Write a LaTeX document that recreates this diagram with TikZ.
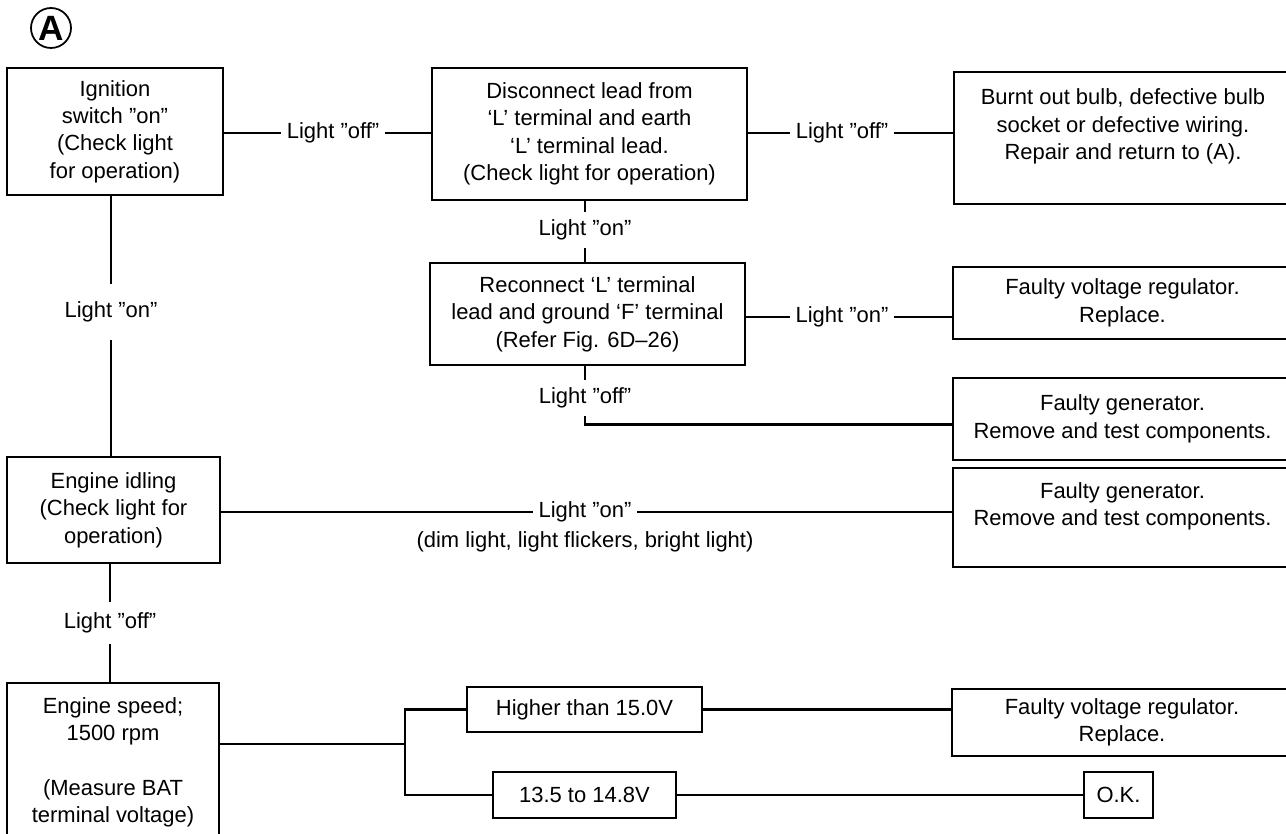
\documentclass[tikz,border=0pt]{standalone}
\usepackage{fontspec}
\setmainfont{Liberation Sans}
\usepackage{tikz}
\usetikzlibrary{positioning, calc}

\begin{document}
\begin{tikzpicture}[
    x=0.02cm, y=-0.02cm,
    font=\fontsize{12.5}{15.6}\selectfont,
    stepbox/.style={draw, line width=0.9pt, align=center, inner sep=2pt},
    endbox/.style={draw, line width=0.9pt, align=center, inner sep=2pt,
        minimum width=6.78cm},
    condlabel/.style={inner xsep=3pt, inner ysep=4pt},
    notelabel/.style={align=center, inner sep=1pt},
    conn/.style={line width=1.7pt},
    markcircle/.style={draw, circle, line width=1pt, minimum size=0.8cm,
        inner sep=0pt, font=\fontsize{20}{20}\selectfont\bfseries},
]
\useasboundingbox (0,0) rectangle (1286,834);
\clip (0,0) rectangle (1286,834);

%% ========== START MARK ==========
\node[markcircle] (mark) at (51,28) {A};

%% ========== LEFT COLUMN ==========
\node[stepbox, minimum width=4.32cm, minimum height=2.54cm] (ign) at (115,131.5)
    {Ignition\\switch ''on''\\(Check light\\for operation)};
\node[stepbox, minimum width=4.26cm, minimum height=2.12cm] (idle) at (113.5,510)
    {Engine idling\\(Check light for\\operation)};
\node[stepbox, minimum width=4.24cm, minimum height=3.18cm] (speed) at (113,762.5)
    {Engine speed;\\1500 rpm\\[15.6pt](Measure BAT\\terminal voltage)};

%% ========== MIDDLE COLUMN ==========
\node[stepbox, minimum width=6.3cm, minimum height=2.64cm] (disc) at (589.5,134)
    {Disconnect lead from\\`L' terminal and earth\\`L' terminal lead.\\(Check light for operation)};
\node[stepbox, minimum width=6.3cm, minimum height=2.04cm] (recon) at (587.5,314)
    {Reconnect `L' terminal\\lead and ground `F' terminal\\(Refer Fig. 6D--26)};
\node[stepbox, minimum width=4.7cm, minimum height=0.9cm] (high) at (584.5,709.5)
    {Higher than 15.0V};
\node[stepbox, minimum width=3.66cm, minimum height=0.92cm] (volt) at (584.5,795)
    {13.5 to 14.8V};

%% ========== RESULTS (right) ==========
\node[endbox, minimum width=6.76cm, minimum height=2.64cm] (bulb) at (1123,138)
    {Burnt out bulb, defective bulb\\socket or defective wiring.\\Repair and return to (A).\\ \mbox{}};
\node[endbox, minimum height=1.44cm] (vr1) at (1122.5,303)
    {Faulty voltage regulator.\\Replace.};
\node[endbox, minimum height=1.64cm] (gen1) at (1122.5,419)
    {Faulty generator.\\Remove and test components.};
\node[endbox, minimum height=1.98cm] (gen2) at (1122.5,517.5)
    {Faulty generator.\\Remove and test components.\\ \mbox{}};
\node[endbox, minimum width=6.8cm, minimum height=1.34cm] (vr2) at (1122,722.5)
    {Faulty voltage regulator.\\Replace.};
\node[stepbox, minimum width=1.38cm, minimum height=0.92cm] (ok) at (1118.5,795)
    {O.K.};

%% ========== CONDITION LABELS ==========
\node[condlabel] (off1) at (333,133) {Light ''off''};
\node[condlabel] (off2) at (842,133) {Light ''off''};
\node[condlabel] (on1) at (585,230) {Light ''on''};
\node[condlabel] (on2) at (842,317) {Light ''on''};
\node[condlabel] (off3) at (585,398) {Light ''off''};
\node[condlabel, inner ysep=10pt] (on3) at (111,312) {Light ''on''};
\node[condlabel] (on4) at (585,512) {Light ''on''};
\node[notelabel, below=0pt of on4] (dimnote) {(dim light, light flickers, bright light)};
\node[condlabel, inner ysep=6pt] (off4) at (110,623) {Light ''off''};
\coordinate (br) at (405,744);

%% ========== CONNECTORS ==========
\draw[conn] (ign.east |- off1) -- (off1.west);
\draw[conn] (off1.east) -- (disc.west |- off1);
\draw[conn] (disc.east |- off2) -- (off2.west);
\draw[conn] (off2.east) -- (bulb.west |- off2);
\draw[conn] (on1 |- disc.south) -- (on1.north);
\draw[conn] (on1.south) -- (on1 |- recon.north);
\draw[conn] (recon.east |- on2) -- (on2.west);
\draw[conn] (on2.east) -- (vr1.west |- on2);
\draw[conn] (off3 |- recon.south) -- (off3.north);
\draw[conn] (off3.south) |- ([yshift=-3pt]gen1.west);
\draw[conn] (on3 |- ign.south) -- (on3.north);
\draw[conn] (on3.south) -- (on3 |- idle.north);
\draw[conn] (idle.east |- on4) -- (on4.west);
\draw[conn] (on4.east) -- (gen2.west |- on4);
\draw[conn] (off4 |- idle.south) -- (off4.north);
\draw[conn] (off4.south) -- (off4 |- speed.north);
\draw[conn] (speed.east |- br) -- (br) |- (high.west);
\draw[conn] (br) |- (volt.west);
\draw[conn] (high.east) -- (high.east -| vr2.west);
\draw[conn] (volt.east) -- (ok.west);
\end{tikzpicture}
\end{document}
